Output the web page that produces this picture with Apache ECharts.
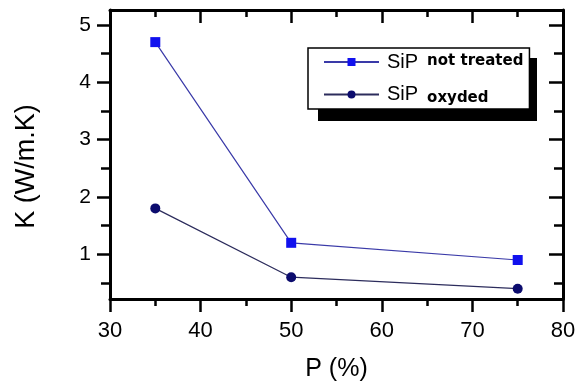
<!DOCTYPE html>
<html>
<head>
<meta charset="utf-8">
<script src="https://cdn.jsdelivr.net/npm/echarts@6/dist/echarts.min.js"></script>
<style>html,body{margin:0;padding:0;background:#fff}#c{width:587px;height:388px}</style>
</head>
<body>
<div id="c"></div>
<script>
var porosity = [35, 50, 75];
var kNotTreated = [4.7, 1.2, 0.9];
var kOxyded = [1.8, 0.6, 0.4];
var yMajorTicks = [1, 2, 3, 4, 5];
var yMinorTicks = [0.5, 1.5, 2.5, 3.5, 4.5];
var seriesNames = ['SiP not treated', 'SiP oxyded'];

var FONT = 'Liberation Sans, Arial, sans-serif';
var chart = echarts.init(document.getElementById('c'), null, {renderer: 'canvas'});
function pts(ys) { return porosity.map(function (x, i) { return [x, ys[i]]; }); }
var axisLine = {show: true, lineStyle: {color: '#000', width: 3}};
var yMin = 0.22, yMax = 5.26;

chart.setOption({
  animation: false,
  backgroundColor: '#fff',
  grid: {left: 110, right: 24, top: 10, bottom: 89},
  graphic: [{
    type: 'rect', z: 3, silent: true,
    shape: {x: 318, y: 58, width: 219, height: 63},
    style: {fill: '#000'}
  }],
  xAxis: [{
    type: 'value', position: 'bottom', min: 30, max: 80, interval: 10,
    axisLine: axisLine,
    axisTick: {length: 13, lineStyle: {color: '#000', width: 2.5}},
    minorTick: {show: true, splitNumber: 2, length: 7, lineStyle: {color: '#000', width: 2.5}},
    splitLine: {show: false},
    axisLabel: {fontSize: 22, color: '#000', margin: 21, fontFamily: FONT},
    name: 'P (%)', nameLocation: 'middle', nameGap: 58,
    nameTextStyle: {fontSize: 25, color: '#000', fontFamily: FONT}
  }, {
    type: 'value', position: 'top', min: 30, max: 80, interval: 10,
    axisLine: axisLine,
    axisTick: {inside: true, length: 13, lineStyle: {color: '#000', width: 2.5}},
    minorTick: {show: true, splitNumber: 2, length: 7, lineStyle: {color: '#000', width: 2.5}},
    splitLine: {show: false},
    axisLabel: {show: false}
  }],
  yAxis: [{
    type: 'value', position: 'left', min: yMin, max: yMax,
    axisLine: axisLine,
    axisTick: {length: 13, customValues: yMajorTicks, lineStyle: {color: '#000', width: 2.5}},
    splitLine: {show: false},
    axisLabel: {fontSize: 21, color: '#000', margin: 19, fontFamily: FONT, customValues: yMajorTicks},
    name: 'K (W/m.K)', nameLocation: 'middle', nameGap: 70,
    nameTextStyle: {fontSize: 27, color: '#000', fontFamily: FONT, padding: [0, 24, 0, 0]}
  }, {
    type: 'value', position: 'left', min: yMin, max: yMax,
    axisLine: {show: false},
    axisTick: {length: 9, customValues: yMinorTicks, lineStyle: {color: '#000', width: 2.5}},
    splitLine: {show: false},
    axisLabel: {show: false}
  }, {
    type: 'value', position: 'right', min: yMin, max: yMax,
    axisLine: axisLine,
    axisTick: {inside: true, length: 14, customValues: yMajorTicks, lineStyle: {color: '#000', width: 2.5}},
    splitLine: {show: false},
    axisLabel: {show: false}
  }, {
    type: 'value', position: 'right', min: yMin, max: yMax,
    axisLine: {show: false},
    axisTick: {inside: true, length: 9, customValues: yMinorTicks, lineStyle: {color: '#000', width: 2.5}},
    splitLine: {show: false},
    axisLabel: {show: false}
  }],
  legend: {
    orient: 'vertical', left: 308, top: 48, z: 5,
    padding: [4, 6, 3, 15],
    itemWidth: 55, itemHeight: 10, itemGap: 11,
    selectedMode: false,
    backgroundColor: '#fff', borderColor: '#000', borderWidth: 1.5, borderRadius: 0,
    data: seriesNames,
    formatter: function (name) {
      var rest = name.replace('SiP ', '');
      return name === seriesNames[0] ? '{b|SiP}{sup|' + rest + '}' : '{b|SiP}{sub|' + rest + '}';
    },
    textStyle: {
      rich: {
        b: {fontSize: 20, fontFamily: FONT, color: '#000', lineHeight: 22, padding: [0, 0, 0, 3]},
        sup: {fontSize: 15, fontWeight: 'bold', fontFamily: 'DejaVu Sans', color: '#000', lineHeight: 18, padding: [1, 0, 3, 9]},
        sub: {fontSize: 15, fontWeight: 'bold', fontFamily: 'DejaVu Sans', color: '#000', lineHeight: 14, padding: [8, 0, 0, 9]}
      }
    }
  },
  series: [{
    name: seriesNames[0], type: 'line', xAxisIndex: 0, yAxisIndex: 0,
    data: pts(kNotTreated),
    symbol: 'rect', symbolSize: 10,
    itemStyle: {color: '#1111ee'},
    lineStyle: {color: '#3a3aa8', width: 1.2}
  }, {
    name: seriesNames[1], type: 'line', xAxisIndex: 0, yAxisIndex: 0,
    data: pts(kOxyded),
    symbol: 'circle', symbolSize: 10,
    itemStyle: {color: '#0c0c6e'},
    lineStyle: {color: '#2c2c5c', width: 1.2}
  }]
});
</script>
</body>
</html>
